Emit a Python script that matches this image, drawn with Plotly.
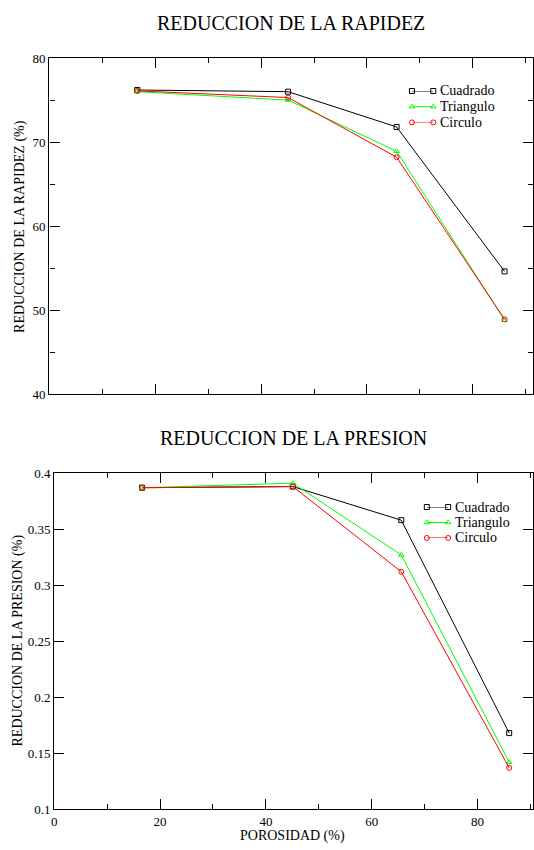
import plotly.graph_objects as go

# Porosity of the obstacle (%) shared by both panels
porosidad = [16.6, 45.1, 65.6, 86.0]

# Speed reduction (%) per obstacle shape
rapidez_cuadrado = [76.2, 76.0, 71.8, 54.6]
rapidez_triangulo = [76.0, 75.0, 68.9, 48.8]
rapidez_circulo = [76.1, 75.3, 68.2, 48.9]

# Pressure reduction per obstacle shape
presion_cuadrado = [0.387, 0.388, 0.358, 0.168]
presion_triangulo = [0.387, 0.391, 0.327, 0.142]
presion_circulo = [0.387, 0.388, 0.312, 0.137]

series_names = ["Cuadrado", "Triangulo", "Circulo"]
series_colors = ["#000000", "#00ff00", "#ff0000"]
series_symbols = ["square-open", "triangle-up-open", "circle-open"]

W, H = 534, 850
FONT = "Times New Roman, Liberation Serif, Times, serif"
TICK_FONT = "Liberation Serif, serif"


def px(x):
    return x / W


def py(y):
    return 1 - y / H


fig = go.Figure()

panels = [
    ("x", "y", [rapidez_cuadrado, rapidez_triangulo, rapidez_circulo]),
    ("x2", "y2", [presion_cuadrado, presion_triangulo, presion_circulo]),
]
for xa, ya, data in panels:
    for name, color, sym, vals in zip(series_names, series_colors, series_symbols, data):
        fig.add_trace(go.Scatter(
            x=porosidad, y=vals, mode="lines+markers", name=name,
            xaxis=xa, yaxis=ya, showlegend=False, cliponaxis=False,
            line=dict(color=color, width=1),
            marker=dict(symbol=sym, size=5, color=color, line=dict(color=color, width=1)),
        ))

# Hand-drawn legends: a short line with a marker at each end
legend_rows = [0.0, 0.5, 1.0]
for xa, ya in [("x3", "y3"), ("x4", "y4")]:
    for name, color, sym, row in zip(series_names, series_colors, series_symbols, legend_rows[::-1]):
        fig.add_trace(go.Scatter(
            x=[0, 1], y=[row, row], mode="lines+markers", xaxis=xa, yaxis=ya,
            showlegend=False, cliponaxis=False, hoverinfo="skip",
            line=dict(color=color, width=1),
            marker=dict(symbol=sym, size=5, color=color, line=dict(color=color, width=1)),
        ))

tick_font = dict(family=TICK_FONT, size=13, color="black")
axis_common = dict(
    showline=True, linecolor="black", linewidth=1.3, mirror="allticks",
    ticks="inside", ticklen=10, tickwidth=1.3, tickcolor="black",
    showgrid=False, zeroline=False, tickfont=tick_font,
)
hidden = dict(visible=False, range=[0, 1], fixedrange=True)

fig.update_layout(
    width=W, height=H,
    margin=dict(l=0, r=0, t=0, b=0),
    paper_bgcolor="white", plot_bgcolor="white",
    showlegend=False,
    font=dict(family=FONT, color="black", size=14),
    xaxis=dict(axis_common, domain=[px(46.7), 1], range=[0, 91.37], dtick=20, tick0=0,
               minor=dict(ticks="inside", ticklen=5, tickwidth=1.3, dtick=10, tickcolor="black"),
               anchor="y"),
    yaxis=dict(axis_common, domain=[py(394), py(52)], range=[40, 80], dtick=10,
               minor=dict(ticks="inside", ticklen=5, tickwidth=1.3, dtick=5, tickcolor="black"),
               anchor="x"),
    xaxis2=dict(axis_common, domain=[px(51.7), 1], range=[0, 90.5], dtick=20, tick0=0,
                minor=dict(ticks="inside", ticklen=5, tickwidth=1.3, dtick=10, tickcolor="black"),
                anchor="y2"),
    yaxis2=dict(axis_common, domain=[py(816.7), py(474.5)], range=[0.1, 0.4], dtick=0.05,
                tickformat="~g", anchor="x2"),
    xaxis3=dict(hidden, domain=[px(412), px(433.5)], anchor="y3"),
    yaxis3=dict(hidden, domain=[py(117.5), py(85.5)], anchor="x3"),
    xaxis4=dict(hidden, domain=[px(427), px(448.5)], anchor="y4"),
    yaxis4=dict(hidden, domain=[py(540.5), py(509)], anchor="x4"),
)

annotations = [
    dict(text="REDUCCION DE LA RAPIDEZ", x=px(290), y=py(16), size=20, angle=0),
    dict(text="REDUCCION DE LA PRESION", x=px(293), y=py(439), size=20, angle=0),
    dict(text="REDUCCION DE LA RAPIDEZ (%)", x=px(17), y=py(223), size=14, angle=-90),
    dict(text="REDUCCION DE LA PRESION (%)", x=px(15), y=py(645), size=14, angle=-90),
    dict(text="POROSIDAD (%)", x=px(292), y=py(844), size=14, angle=0),
]
for a in annotations:
    fig.add_annotation(text=a["text"], x=a["x"], y=a["y"], xref="paper", yref="paper",
                       xanchor="center", yanchor="middle", showarrow=False, borderpad=0,
                       textangle=a["angle"], font=dict(family=FONT, size=a["size"], color="black"))

legend_text_rows = [(439.5, [85.5, 101.5, 117.5]), (454, [509, 524.7, 540.5])]
for x0, rows in legend_text_rows:
    for name, yrow in zip(series_names, rows):
        fig.add_annotation(text=name, x=px(x0), y=py(yrow), xref="paper", yref="paper",
                           xanchor="left", yanchor="middle", showarrow=False, borderpad=0,
                           font=dict(family=FONT, size=14, color="black"))

# Strip hiding the lower part of the upper panel's x tick labels
fig.add_shape(type="rect", xref="paper", yref="paper", x0=0, x1=1,
              y0=py(425), y1=py(401.5), fillcolor="white", line=dict(width=0), layer="above")

fig.write_html("out.html")
